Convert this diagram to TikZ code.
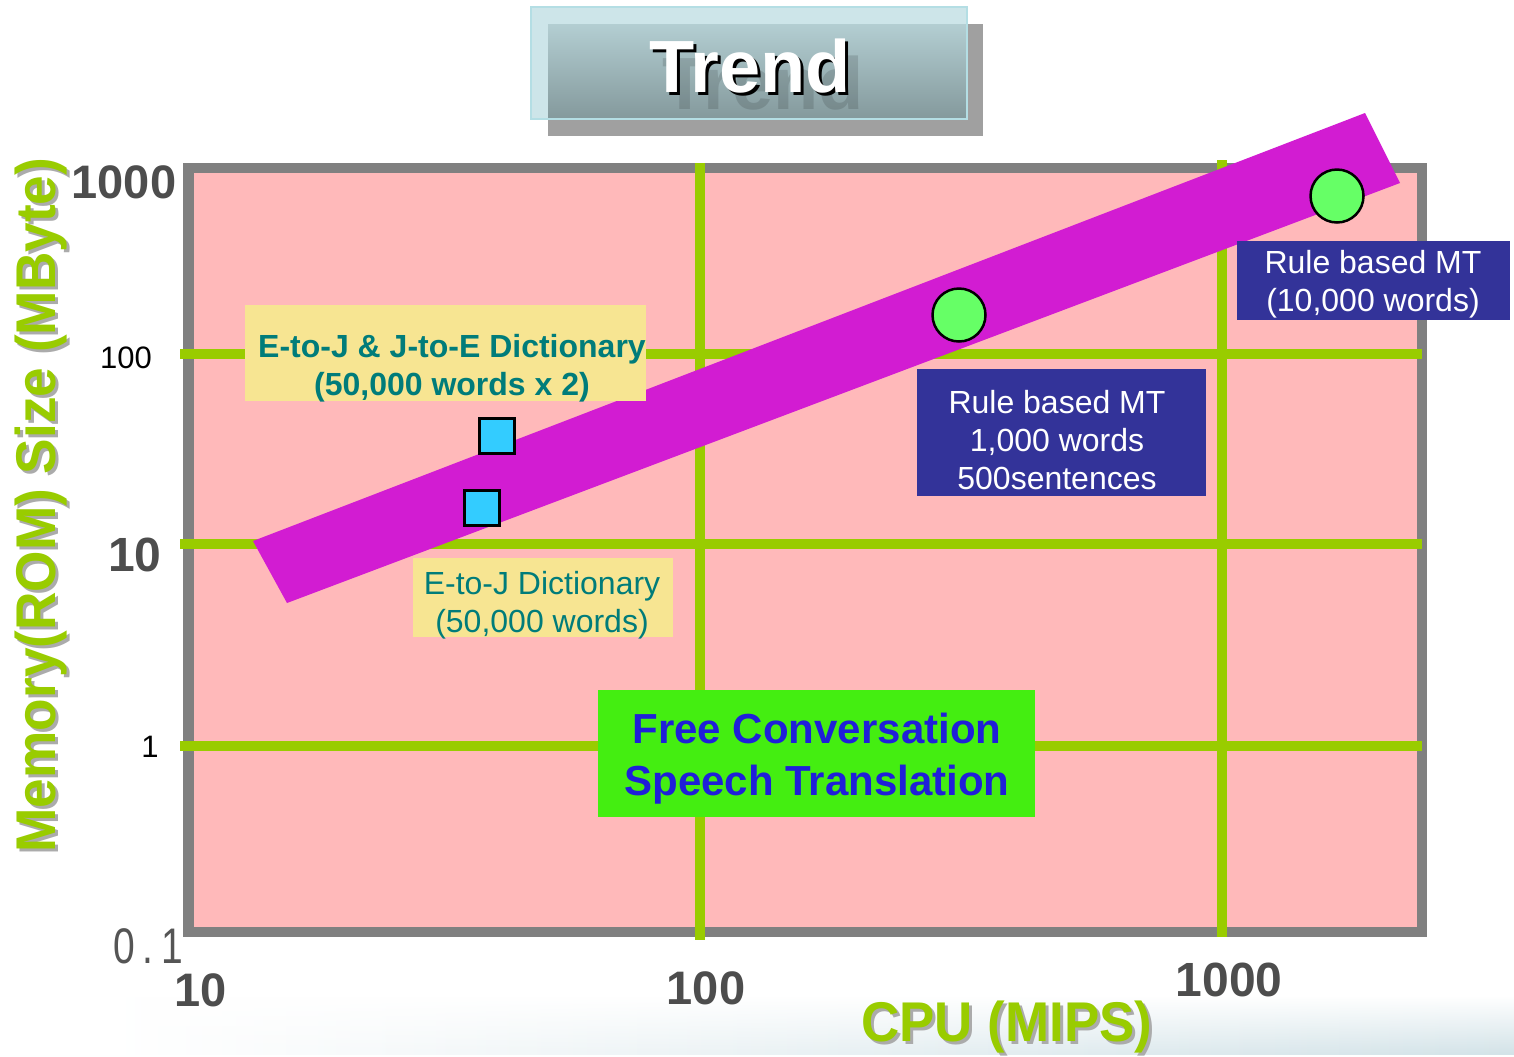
\documentclass[tikz,border=0pt]{standalone}
\usepackage{fontspec}
\setmainfont{Liberation Sans}
\usetikzlibrary{shapes.geometric,fadings}

\definecolor{plotpink}{HTML}{FFB9BA}
\definecolor{framegray}{HTML}{808080}
\definecolor{gridgreen}{HTML}{99CC00}
\definecolor{bandmagenta}{HTML}{D21CD2}
\definecolor{sqcyan}{HTML}{33CCFF}
\definecolor{dotgreen}{HTML}{66FF66}
\definecolor{noteyellow}{HTML}{F7E592}
\definecolor{noteteal}{HTML}{007C7A}
\definecolor{mtnavy}{HTML}{333399}
\definecolor{freegreen}{HTML}{44EE11}
\definecolor{freeblue}{HTML}{1F1FD9}
\definecolor{ticklabel}{HTML}{4D4D4D}
\definecolor{smalltick}{HTML}{555555}
\definecolor{titleshadow}{HTML}{A0A0A0}
\definecolor{titlelight}{HTML}{CDE5E9}
\definecolor{titletop}{HTML}{B3CED2}
\definecolor{titlebottom}{HTML}{84999C}
\definecolor{titleedge}{HTML}{B4DEE4}
\definecolor{stripblue}{HTML}{D3E3E8}
\definecolor{textshadow}{HTML}{ABABAB}

\tikzset{
  fillbox/.style={rectangle, inner sep=0pt, outer sep=0pt, draw=none},
  notetext/.style={align=center, inner sep=0pt, text=noteteal, font=\fontsize{16}{19}\selectfont},
  notetextbold/.style={notetext, font=\bfseries\fontsize{16}{19}\selectfont},
  mttext/.style={align=center, inner sep=0pt, text=white, font=\fontsize{16}{19}\selectfont},
  freetext/.style={align=center, inner sep=0pt, text=freeblue, font=\bfseries\fontsize{21}{26}\selectfont},
  tickbold/.style={inner sep=0pt, text=ticklabel, font=\bfseries\fontsize{23.5}{28}\selectfont},
  ticksmall/.style={inner sep=0pt, text=black, font=\fontsize{15.5}{18}\selectfont},
  gridline/.style={draw=gridgreen, line width=5pt},
  marksq/.style={rectangle, draw=black, line width=1.5pt, fill=sqcyan, minimum size=17.5pt, inner sep=0pt},
  markdot/.style={ellipse, draw=black, line width=1.25pt, fill=dotgreen, minimum width=26.5pt, minimum height=26.5pt, inner sep=0pt},
  axistitle/.style={inner sep=0pt, font=\bfseries\fontsize{28}{32}\selectfont},
  titlefont/.style={inner sep=0pt, font=\bfseries\fontsize{37}{40}\selectfont},
}

\begin{document}
\begin{tikzpicture}[x=0.5pt,y=-0.5pt]
% page and faint strip along the bottom
\fill[white] (0,0) rectangle (1514,1054);
\shade[left color=white, right color=stripblue, path fading=north] (110,996) rectangle (1514,1054);

% title plate
\fill[titleshadow] (548,24) rectangle (983,136);
\fill[titlelight] (531,7) rectangle (967,119);
\shade[top color=titletop, bottom color=titlebottom] (548,24) rectangle (967,119);
\draw[titleedge, line width=1pt] (531,7) rectangle (967,119);
\node[titlefont, text=black, text opacity=0.13] (titleecho) at (763,83) {Trend};
\node[titlefont, text=black] (titleshade) at (753,69) {Trend};
\node[titlefont, text=white] (title) at (750,66) {Trend};

% plot area
\fill[framegray] (183,163) rectangle (1427,937);
\fill[plotpink] (194,173) rectangle (1417,927);

% grid
\draw[gridline] (180,354) -- (1422,354);
\draw[gridline] (180,544) -- (1422,544);
\draw[gridline] (180,746) -- (1422,746);
\draw[gridline] (700,163) -- (700,940);
\draw[gridline] (1222,160) -- (1222,937);

% trend band
\fill[bandmagenta] (253,541) -- (287,603) -- (1400,183) -- (1365,113) -- cycle;

% data points
\node[marksq] (dictboth) at (497,436) {};
\node[marksq] (dictej) at (482,508) {};
\node[markdot] (mtsmall) at (959,315) {};
\node[markdot] (mtlarge) at (1337,196) {};

% annotations
\node[fillbox, fill=noteyellow, minimum width=200.5pt, minimum height=48pt] (ejjebox) at (445.5,353) {};
\node[notetextbold] (ejjetext) at (452,368) {E-to-J \& J-to-E Dictionary\\(50,000 words x 2)};

\node[fillbox, fill=noteyellow, minimum width=130pt, minimum height=39.5pt] (ejbox) at (543,597.5) {};
\node[notetext] (ejtext) at (542,605) {E-to-J Dictionary\\(50,000 words)};

\node[fillbox, fill=mtnavy, minimum width=144.5pt, minimum height=63.5pt] (mtsmallbox) at (1061.5,432.5) {};
\node[mttext] (mtsmalltext) at (1057,440) {Rule based MT\\1,000 words\\500sentences};

\node[fillbox, fill=mtnavy, minimum width=136.5pt, minimum height=39.5pt] (mtlargebox) at (1373.5,280.5) {};
\node[mttext] (mtlargetext) at (1373,284) {Rule based MT\\(10,000 words)};

\node[fillbox, fill=freegreen, minimum width=218.5pt, minimum height=63.5pt] (freebox) at (816.5,753.5) {};
\node[freetext] (freetext) at (817,759) {Free Conversation\\Speech Translation};

% tick labels
\node[tickbold] (y1000) at (124,182) {1000};
\node[ticksmall] (y100) at (126,358) {100};
\node[tickbold, font=\bfseries\fontsize{24}{28}\selectfont] (y10) at (135,555) {10};
\node[ticksmall] (y1) at (150,747) {1};
\node[inner sep=0pt, text=smalltick, font=\fontsize{25}{28}\selectfont] (y01) at (148,946) {\scalebox{0.78}[1]{0\hspace{5pt}.\hspace{5pt}1}};
\node[tickbold] (x10) at (201,990) {10};
\node[tickbold] (x100) at (706,988) {100};
\node[tickbold, font=\bfseries\fontsize{24}{28}\selectfont] (x1000) at (1229,980) {1000};

% axis titles
\node[axistitle, text=textshadow] (xtitleshade) at (1010,1030) {\scalebox{0.945}[1]{CPU (MIPS)}};
\node[axistitle, text=gridgreen] (xtitle) at (1007,1027) {\scalebox{0.945}[1]{CPU (MIPS)}};
\node[axistitle, text=textshadow, rotate=90] (ytitleshade) at (44,508) {\scalebox{0.95}[1]{Memory(ROM) Size (MByte)}};
\node[axistitle, text=gridgreen, rotate=90] (ytitle) at (41,505) {\scalebox{0.95}[1]{Memory(ROM) Size (MByte)}};
\end{tikzpicture}
\end{document}
